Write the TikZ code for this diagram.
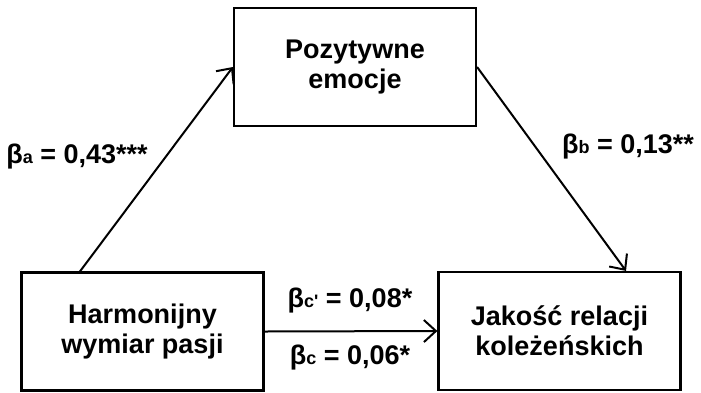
\documentclass[tikz,border=0pt]{standalone}
\usepackage{fontspec}
\setmainfont{Liberation Sans}
\usetikzlibrary{arrows.meta}
\newcommand{\sub}[1]{{\fontsize{18}{18}\selectfont #1}}

\begin{document}
\begin{tikzpicture}[x=1pt,y=-1pt,
		box/.style={draw,line width=2.2pt,minimum width=242pt,minimum height=118pt,align=center,
			font=\fontsize{27}{30}\selectfont\bfseries},
		lab/.style={font=\fontsize{27}{30}\selectfont\bfseries},
		path/.style={line width=2pt,-{Straight Barb[length=12pt,width=22pt,line width=2pt]}}]
				\useasboundingbox (0,0) rectangle (701,392);
				\node[box] (harm) at (142.5,331.5) {Harmonijny\\wymiar pasji};
				\node[box] (emo) at (355,67) {Pozytywne\\emocje};
				\node[box] (rel) at (559.5,331) {Jakość relacji\\koleżeńskich};
				% paths a, b, c
				\draw[path] ([xshift=-62.5pt]harm.north) -- (emo.west);
				\draw[path] (emo.east) -- ([xshift=66.5pt]rel.north);
				\draw[path] (harm.east) -- (rel.west);
				\node[lab] (ba) at (77,157) {β\sub{a} = 0,43***};
				\node[lab] (bb) at (628,147) {β\sub{b} = 0,13**};
				\node[lab] (bcp) at (350,301) {β\sub{c\textquotesingle} = 0,08*};
				\node[lab] (bc) at (350,358) {β\sub{c} = 0,06*};
			\end{tikzpicture}
\end{document}
